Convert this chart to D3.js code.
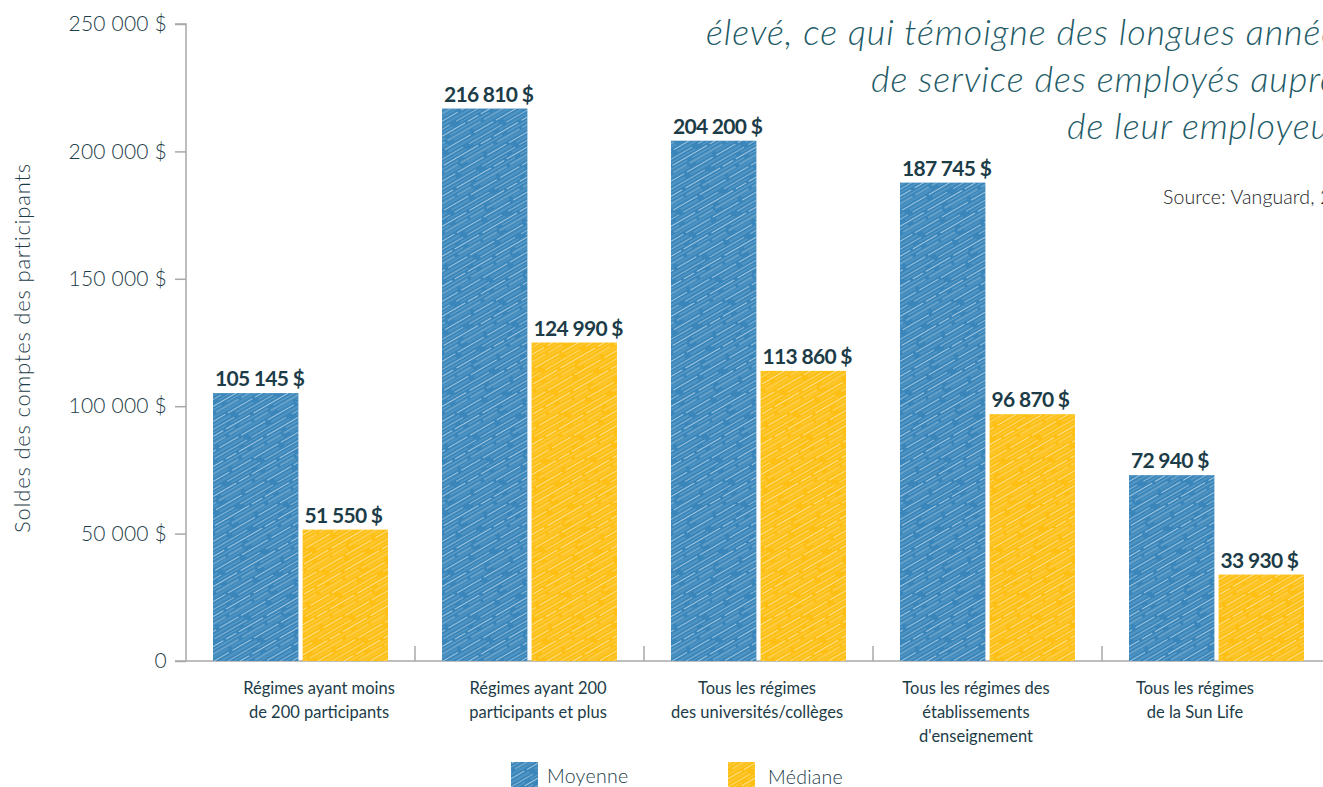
<!DOCTYPE html>
<html><head><meta charset="utf-8">
<script src="https://cdn.jsdelivr.net/npm/d3@7"></script>
<style>
html,body{margin:0;padding:0;background:#fff;}
svg{display:block;font-family:Lato,"Open Sans",sans-serif;}
</style></head>
<body>
<svg id="c" width="1323" height="787"></svg>
<script>
const categories = [
  ["Régimes ayant moins", "de 200 participants"],
  ["Régimes ayant 200", "participants et plus"],
  ["Tous les régimes", "des universités/collèges"],
  ["Tous les régimes des", "établissements", "d'enseignement"],
  ["Tous les régimes", "de la Sun Life"]
];
const seriesNames = ["Moyenne", "Médiane"];
const moyenne = [105145, 216810, 204200, 187745, 72940];
const mediane = [51550, 124990, 113860, 96870, 33930];
const yTicks = [0, 50000, 100000, 150000, 200000, 250000];
const titleLines = ["élevé, ce qui témoigne des longues années", "de service des employés auprès", "de leur employeur."];
const sourceText = "Source: Vanguard, 2";
const yTitle = "Soldes des comptes des participants";

const colors = ["#3a86ba", "#fdbf14"];
const textCol = "#1c3c48";
const titleCol = "#1e5b67";
const axisCol = "#a8a8a8";

const svg = d3.select("#c");
const fmt = v => v === 0 ? "0" : d3.format(",")(v).replace(/,/g, "\u00a0") + "\u00a0$";

// hatch pattern (white strokes only, drawn over solid fills)
const defs = svg.append("defs");
const TW = 90, TH = 26;
const p = defs.append("pattern").attr("id", "hatch")
  .attr("patternUnits", "userSpaceOnUse").attr("width", TW).attr("height", TH)
  .attr("patternTransform", "rotate(-30)");
// [y, opacity, dasharray (sums to TW), dashoffset]
const hl = [[1.5, 0.7, "28 4 40 3 12 3", 0], [4.5, 0.3, "45 6 33 6", 37], [8, 0.55, "16 3 38 4 26 3", 61],
            [11, 0.25, "60 8 18 4", 14], [14.5, 0.65, "30 4 22 3 28 3", 49], [18, 0.3, "20 6 58 6", 73],
            [21.5, 0.5, "38 5 40 7", 25], [24.5, 0.22, "52 8 24 6", 82]];
hl.forEach(([yy, o, da, off]) => {
  p.append("line").attr("x1", 0).attr("x2", TW).attr("y1", yy).attr("y2", yy)
    .attr("stroke", "#fff").attr("stroke-width", 0.8).attr("stroke-opacity", o)
    .attr("stroke-dasharray", da).attr("stroke-dashoffset", off);
});

const x0 = d3.scaleBand().domain(d3.range(categories.length)).range([186, 1331]).paddingInner(0).paddingOuter(0);
const x1 = d3.scaleBand().domain([0, 1]).range([27, 229 - 27]).paddingInner(0.047);
const y = d3.scaleLinear().domain([0, 250000]).range([661, 24]);

// title
const tg = svg.append("g").attr("fill", titleCol).attr("font-style", "italic").attr("font-size", 36)
  .attr("font-weight", 300).attr("letter-spacing", 0.9);
const titleX = [706, 871, 1067];
const titleY = [45, 92, 139];
titleLines.forEach((t, i) => tg.append("text").attr("x", titleX[i]).attr("y", titleY[i]).text(t));
svg.append("text").attr("x", 1163).attr("y", 204).attr("font-size", 19.5).attr("font-weight", 300)
  .attr("letter-spacing", 0.1).attr("fill", "#222").text(sourceText);

// y axis
const yAxis = svg.append("g").attr("transform", "translate(186,0)")
  .call(d3.axisLeft(y).tickValues(yTicks).tickFormat(fmt).tickSize(11).tickPadding(8));
yAxis.select(".domain").attr("stroke", axisCol).attr("stroke-width", 1.5).attr("d", "M0,661V24H-11");
yAxis.selectAll(".tick line").attr("stroke", axisCol).attr("stroke-width", 1.5);
yAxis.selectAll(".tick text").attr("fill", textCol).attr("font-size", 21).attr("font-weight", 300)
  .attr("font-family", "Lato").attr("letter-spacing", 0.2);

// x axis line + ticks
svg.append("line").attr("x1", 175).attr("x2", 1323).attr("y1", 661).attr("y2", 661).attr("stroke", axisCol).attr("stroke-width", 1.5);
svg.selectAll(".xt").data(d3.range(1, categories.length)).join("line")
  .attr("x1", d => x0(d)).attr("x2", d => x0(d)).attr("y1", 661).attr("y2", 646)
  .attr("stroke", axisCol).attr("stroke-width", 1.5);

// y title
svg.append("text").attr("transform", "translate(30,348) rotate(-90)").attr("text-anchor", "middle")
  .attr("font-size", 22).attr("font-weight", 300).attr("letter-spacing", 0.8).attr("fill", textCol).text(yTitle);

// bars
const groups = svg.append("g").selectAll("g").data(categories.map((c, i) => i)).join("g")
  .attr("transform", i => `translate(${x0(i)},0)`);
const vals = i => [moyenne[i], mediane[i]];
groups.selectAll("rect.bar").data(vals).join("rect").attr("class", "bar")
  .attr("x", (d, j) => x1(j)).attr("width", x1.bandwidth())
  .attr("y", d => y(d)).attr("height", d => y(0) - y(d))
  .attr("fill", (d, j) => colors[j]);
groups.selectAll("rect.hatch").data(vals).join("rect").attr("class", "hatch")
  .attr("x", (d, j) => x1(j)).attr("width", x1.bandwidth())
  .attr("y", d => y(d)).attr("height", d => y(0) - y(d))
  .attr("fill", "url(#hatch)");
groups.selectAll("text.val").data(vals).join("text").attr("class", "val")
  .attr("x", (d, j) => x1(j) + 2).attr("y", d => y(d) - 7)
  .attr("font-size", 21).attr("font-weight", 700).attr("letter-spacing", -0.7).attr("fill", textCol).text(fmt);

// category labels
const xl = d3.scalePoint().domain(d3.range(categories.length)).range([319, 1195]);
const cl = svg.append("g").selectAll("text").data(categories).join("text")
  .attr("text-anchor", "middle").attr("font-size", 16.5).attr("fill", textCol)
  .attr("transform", (d, i) => `translate(${xl(i)},694)`);
cl.selectAll("tspan").data(d => d).join("tspan").attr("x", 0).attr("dy", (d, k) => k === 0 ? 0 : 24).text(d => d);

// legend
const legX = [511, 728];
const lg = svg.append("g").selectAll("g").data(seriesNames).join("g")
  .attr("transform", (d, i) => `translate(${legX[i]},762)`);
lg.append("rect").attr("width", 27).attr("height", 26).attr("fill", (d, i) => colors[i]);
lg.append("rect").attr("width", 27).attr("height", 26).attr("fill", "url(#hatch)");
lg.append("text").attr("x", (d, i) => i === 0 ? 36 : 40).attr("y", (d, i) => i === 0 ? 21 : 22)
  .attr("font-size", 19.5).attr("font-weight", 300).attr("letter-spacing", 0.3).attr("fill", textCol).text(d => d);
</script>
</body></html>
